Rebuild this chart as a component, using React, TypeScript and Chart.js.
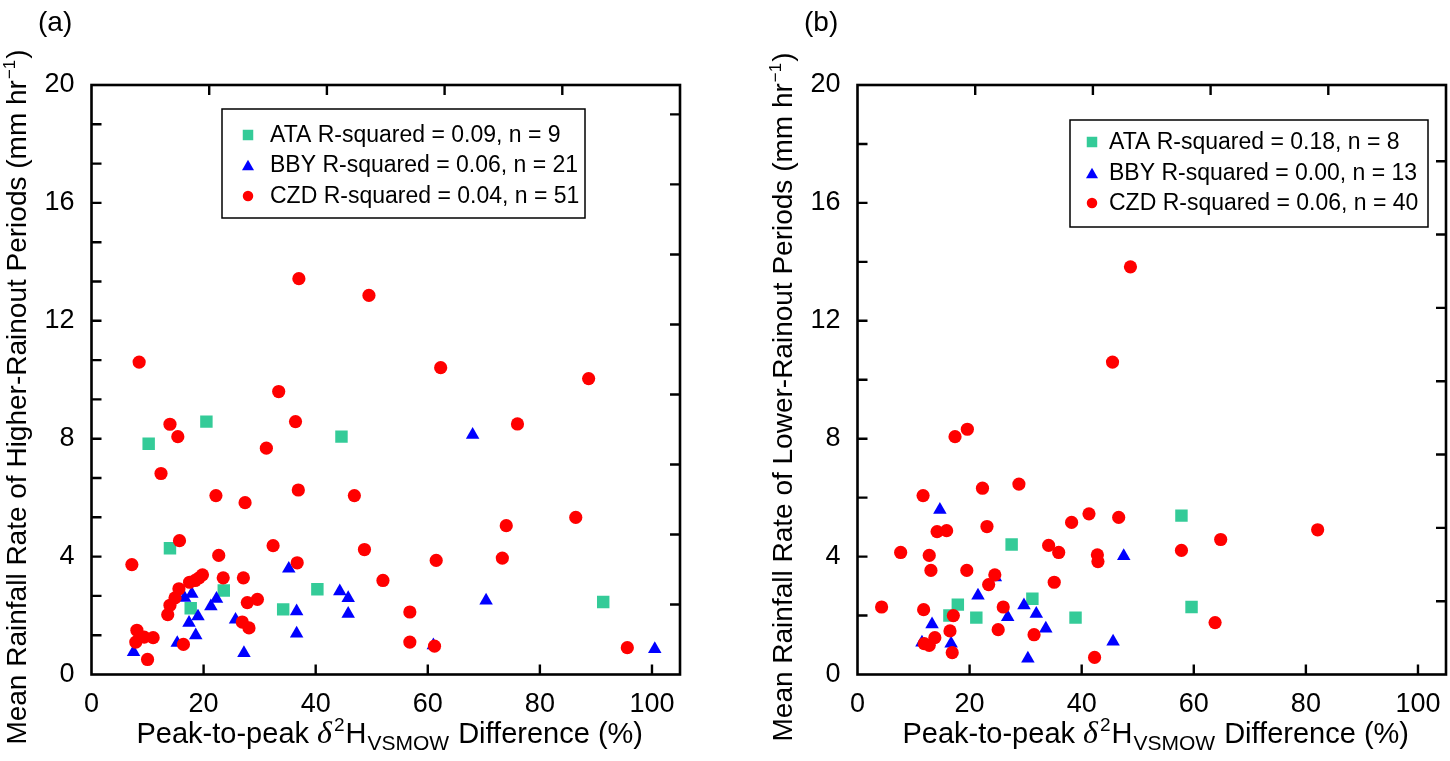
import React, { useEffect, useRef } from 'react';
import { Chart, registerables } from 'chart.js';

Chart.register(...registerables);

type Pt = [number, number];

// ---------- data ----------
const xTickValues = [0, 20, 40, 60, 80, 100];
const yTickValues = [0, 4, 8, 12, 16, 20];
const xRange = [0, 105];
const yRange = [0, 20];

const ataHigher: Pt[] = [[10.2, 7.83], [20.5, 8.58], [44.6, 8.07], [14.0, 4.28], [23.6, 2.85], [40.3, 2.89], [17.7, 2.25], [34.2, 2.21], [91.3, 2.46]];
const bbyHigher: Pt[] = [[35.2, 3.59], [17.9, 2.74], [16.6, 2.6], [22.3, 2.57], [21.3, 2.31], [19.0, 1.97], [17.4, 1.75], [18.6, 1.33], [15.3, 1.07], [7.5, 0.76], [27.2, 0.73], [25.7, 1.86], [44.3, 2.82], [45.8, 2.59], [45.8, 2.06], [36.6, 2.14], [36.6, 1.39], [68.0, 8.13], [70.4, 2.51], [61.0, 0.99], [100.5, 0.86]];
const czdHigher: Pt[] = [[37.0, 13.43], [49.5, 12.86], [8.5, 10.6], [33.4, 9.6], [14.0, 8.49], [36.4, 8.58], [15.4, 8.07], [31.2, 7.68], [12.4, 6.82], [22.2, 6.07], [36.9, 6.26], [46.9, 6.07], [27.4, 5.83], [15.7, 4.54], [7.2, 3.73], [22.7, 4.04], [32.4, 4.37], [48.7, 4.24], [36.7, 3.79], [52.0, 3.19], [19.8, 3.38], [19.2, 3.28], [18.5, 3.19], [17.5, 3.13], [15.6, 2.91], [14.9, 2.6], [14.0, 2.35], [13.6, 2.03], [23.5, 3.28], [27.1, 3.28], [27.8, 2.44], [29.6, 2.55], [26.9, 1.78], [28.1, 1.58], [8.1, 1.5], [7.9, 1.1], [9.4, 1.27], [11.0, 1.25], [10.0, 0.51], [16.4, 1.02], [62.3, 10.41], [88.7, 10.04], [76.0, 8.5], [74.0, 5.05], [86.4, 5.33], [61.5, 3.87], [73.3, 3.95], [56.8, 2.12], [56.8, 1.1], [61.2, 0.96], [95.6, 0.91]];

const ataLower: Pt[] = [[27.5, 4.41], [17.9, 2.37], [16.4, 2.0], [21.2, 1.93], [31.2, 2.57], [38.9, 1.93], [57.8, 5.39], [59.6, 2.29]];
const bbyLower: Pt[] = [[14.7, 5.59], [21.5, 2.68], [29.7, 2.35], [31.9, 2.06], [26.8, 1.95], [33.6, 1.56], [13.3, 1.7], [16.7, 1.05], [11.5, 1.08], [30.4, 0.54], [45.6, 1.12], [47.5, 4.02], [24.6, 3.3]];
const czdLower: Pt[] = [[17.4, 8.07], [19.6, 8.32], [11.7, 6.07], [22.3, 6.32], [28.8, 6.46], [14.2, 4.85], [15.9, 4.88], [23.1, 5.02], [7.7, 4.14], [12.8, 4.04], [13.1, 3.53], [19.5, 3.53], [24.5, 3.38], [23.4, 3.05], [34.1, 4.38], [35.9, 4.14], [38.2, 5.16], [41.3, 5.45], [46.6, 5.33], [42.8, 4.06], [42.9, 3.83], [35.1, 3.13], [4.3, 2.29], [11.8, 2.2], [17.1, 2.0], [26.0, 2.29], [16.5, 1.48], [25.1, 1.52], [31.5, 1.35], [13.8, 1.25], [11.9, 1.05], [12.8, 0.99], [16.9, 0.74], [42.3, 0.58], [48.7, 13.83], [45.5, 10.6], [82.1, 4.91], [64.8, 4.58], [57.8, 4.21], [63.8, 1.76]];

const seriesNames = ['ATA', 'BBY', 'CZD'];
const legendHigher = ['ATA R-squared = 0.09, n = 9', 'BBY R-squared = 0.06, n = 21', 'CZD R-squared = 0.04, n = 51'];
const legendLower = ['ATA R-squared = 0.18, n = 8', 'BBY R-squared = 0.00, n = 13', 'CZD R-squared = 0.06, n = 40'];
const yTitleHigher = 'Mean Rainfall Rate of Higher-Rainout Periods (mm hr';
const yTitleLower = 'Mean Rainfall Rate of Lower-Rainout Periods (mm hr';
const yTitleSup = '\u22121';
const yTitleTail = ')';
const xTitleParts = ['Peak-to-peak ', '\u03b4', '2', 'H', 'VSMOW', ' Difference (%)'];

// ---------- style ----------
const SANS = "'Liberation Sans', Arial, Helvetica, sans-serif";
const SERIF = "'Liberation Serif', 'DejaVu Serif', serif";
const colors = ['#34cb98', '#0000ff', '#ff0000'];
const shapes = ['rect', 'triangle', 'circle'];
const radii = [8.8, 7.8, 6.6];
const W = 684;
const H = 761;
const TICK = 10;
const TICK_FONT = 27;
const TITLE_FONT = 28;
const XTITLE_FONT = 29;
const LEGEND_FONT = 23;

interface LegendLayout { x: number; y: number; w: number; h: number; markerX: number; textX: number; rows: number[] }
interface PanelSpec {
  tag: string;
  series: Pt[][];
  legend: string[];
  yTitle: string;
  leftStep: number;
  topMax: number;
  rightMax: number;
  legendLayout: LegendLayout;
  left: number;
}

const panels: PanelSpec[] = [
  {
    tag: '(a)', series: [ataHigher, bbyHigher, czdHigher], legend: legendHigher, yTitle: yTitleHigher,
    leftStep: 4 / 3, topMax: 5, rightMax: 8.42,
    legendLayout: { x: 222, y: 109, w: 363, h: 109, markerX: 248, textX: 270, rows: [135, 165, 196] },
    left: 0,
  },
  {
    tag: '(b)', series: [ataLower, bbyLower, czdLower], legend: legendLower, yTitle: yTitleLower,
    leftStep: 2, topMax: 5, rightMax: 8.04,
    legendLayout: { x: 304, y: 120, w: 358, h: 107, markerX: 326, textX: 343, rows: [142, 173, 203] },
    left: 766,
  },
];

function drawMarker(ctx: CanvasRenderingContext2D, shape: string, cx: number, cy: number, s: number, color: string) {
  ctx.fillStyle = color;
  ctx.beginPath();
  if (shape === 'rect') {
    ctx.rect(cx - s / 2, cy - s / 2, s, s);
  } else if (shape === 'triangle') {
    const h = s * 0.86;
    ctx.moveTo(cx, cy - h / 2);
    ctx.lineTo(cx + s / 2, cy + h / 2);
    ctx.lineTo(cx - s / 2, cy + h / 2);
    ctx.closePath();
  } else {
    ctx.arc(cx, cy, s / 2, 0, Math.PI * 2);
  }
  ctx.fill();
}

function makeDecor(spec: PanelSpec) {
  return {
    id: 'decor',
    afterDraw(chart: any) {
      const { ctx, chartArea: a, scales } = chart;
      const sx = scales.x, sy = scales.y, sx2 = scales.x2, sy2 = scales.y2;
      ctx.save();
      ctx.strokeStyle = '#000';
      ctx.lineWidth = 2.4;
      ctx.beginPath();
      xTickValues.forEach((v) => {
        if (v <= xRange[0] || v >= xRange[1]) return;
        const p = sx.getPixelForValue(v);
        ctx.moveTo(p, a.bottom);
        ctx.lineTo(p, a.bottom - TICK);
      });
      for (let k = 1; k * spec.leftStep < yRange[1] - 0.01; k++) {
        const p = sy.getPixelForValue(k * spec.leftStep);
        ctx.moveTo(a.left, p);
        ctx.lineTo(a.left + TICK, p);
      }
      for (let k = 1; k < spec.topMax - 0.1; k++) {
        const p = sx2.getPixelForValue(k);
        ctx.moveTo(p, a.top);
        ctx.lineTo(p, a.top + TICK);
      }
      for (let k = 1; k < spec.rightMax - 0.1; k++) {
        const p = sy2.getPixelForValue(k);
        ctx.moveTo(a.right, p);
        ctx.lineTo(a.right - TICK, p);
      }
      ctx.stroke();
      ctx.lineWidth = 2.6;
      ctx.strokeRect(a.left, a.top, a.right - a.left, a.bottom - a.top);

      // legend
      const L = spec.legendLayout;
      ctx.fillStyle = '#fff';
      ctx.fillRect(L.x, L.y, L.w, L.h);
      ctx.lineWidth = 1.5;
      ctx.strokeRect(L.x, L.y, L.w, L.h);
      ctx.font = `${LEGEND_FONT}px ${SANS}`;
      ctx.textBaseline = 'middle';
      ctx.textAlign = 'left';
      spec.legend.forEach((txt, i) => {
        drawMarker(ctx, shapes[i], L.markerX, L.rows[i], shapes[i] === 'triangle' ? 12 : 10.5, colors[i]);
        ctx.fillStyle = '#000';
        ctx.fillText(txt, L.textX, L.rows[i] + 1);
      });

      // panel tag
      ctx.textBaseline = 'alphabetic';
      ctx.font = `${TITLE_FONT}px ${SANS}`;
      ctx.fillStyle = '#000';
      ctx.fillText(spec.tag, 38, 31);

      // y title (rotated)
      ctx.save();
      ctx.translate(26, 398);
      ctx.rotate(-Math.PI / 2);
      const mainFont = `${TITLE_FONT}px ${SANS}`;
      const supFont = `${Math.round(TITLE_FONT * 0.6)}px ${SANS}`;
      ctx.font = mainFont;
      const wMain = ctx.measureText(spec.yTitle).width;
      const wTail = ctx.measureText(yTitleTail).width;
      ctx.font = supFont;
      const wSup = ctx.measureText(yTitleSup).width;
      let cx = -(wMain + wSup + wTail) / 2;
      ctx.font = mainFont;
      ctx.fillText(spec.yTitle, cx, 0);
      cx += wMain;
      ctx.font = supFont;
      ctx.fillText(yTitleSup, cx + 1, -11);
      cx += wSup + 2;
      ctx.font = mainFont;
      ctx.fillText(yTitleTail, cx, 0);
      ctx.restore();

      // x title with super/subscripts
      const fonts = [
        `${XTITLE_FONT}px ${SANS}`,
        `italic ${XTITLE_FONT + 3}px ${SERIF}`,
        `${Math.round(XTITLE_FONT * 0.66)}px ${SANS}`,
        `${XTITLE_FONT}px ${SANS}`,
        `${Math.round(XTITLE_FONT * 0.74)}px ${SANS}`,
        `${XTITLE_FONT}px ${SANS}`,
      ];
      const dy = [0, 0, -12, 0, 7, 0];
      const gaps = [0, 2, 1, 1, 1, 0];
      const widths = xTitleParts.map((t, i) => { ctx.font = fonts[i]; return ctx.measureText(t).width + gaps[i]; });
      const total = widths.reduce((s, w) => s + w, 0);
      let tx = (a.left + a.right) / 2 + 4 - total / 2;
      const base = 743;
      xTitleParts.forEach((t, i) => {
        ctx.font = fonts[i];
        ctx.fillText(t, tx, base + dy[i]);
        tx += widths[i];
      });
      ctx.restore();
    },
  };
}

function Panel({ spec }: { spec: PanelSpec }) {
  const ref = useRef<HTMLCanvasElement | null>(null);
  useEffect(() => {
    if (!ref.current) return;
    const datasets = spec.series.map((pts, i) => ({
      label: seriesNames[i],
      data: pts.map(([x, y]) => ({ x, y })),
      pointStyle: shapes[i] as any,
      pointRadius: radii[i],
      pointHoverRadius: radii[i],
      backgroundColor: colors[i],
      borderColor: colors[i],
      borderWidth: 0,
      order: 2 - i,
    }));
    const tickFont = { family: SANS, size: TICK_FONT };
    const chart = new Chart(ref.current, {
      type: 'scatter',
      data: { datasets },
      options: {
        animation: false,
        responsive: false,
        events: [],
        layout: { autoPadding: false, padding: { top: 85, right: 4, left: 0, bottom: 0 } },
        plugins: { legend: { display: false }, tooltip: { enabled: false } },
        scales: {
          x: {
            type: 'linear', position: 'bottom', min: xRange[0], max: xRange[1],
            grid: { display: false, drawTicks: false }, border: { display: false },
            ticks: { font: tickFont, color: '#000', padding: 14, autoSkip: false, maxRotation: 0 },
            afterBuildTicks: (s: any) => { s.ticks = xTickValues.map((v) => ({ value: v })); },
            afterFit: (s: any) => { s.height = H - 674.5; s.paddingRight = 0; s.paddingLeft = 0; },
          },
          y: {
            type: 'linear', position: 'left', min: yRange[0], max: yRange[1],
            grid: { display: false, drawTicks: false }, border: { display: false },
            ticks: { font: tickFont, color: '#000', padding: 17, autoSkip: false },
            afterBuildTicks: (s: any) => { s.ticks = yTickValues.map((v) => ({ value: v })); },
            afterFit: (s: any) => { s.width = 91.5; s.paddingTop = 0; s.paddingBottom = 0; },
          },
          x2: { type: 'linear', position: 'top', display: false, min: 0, max: spec.topMax },
          y2: { type: 'linear', position: 'right', display: false, min: 0, max: spec.rightMax },
        },
      } as any,
      plugins: [makeDecor(spec)],
    });
    return () => chart.destroy();
  }, [spec]);
  return (
    <canvas
      ref={ref}
      width={W}
      height={H}
      style={{ position: 'absolute', left: spec.left, top: 0, width: W, height: H }}
    />
  );
}

export default function App() {
  return (
    <div style={{ position: 'fixed', left: 0, top: 0, width: 1450, height: 761, background: '#fff', overflow: 'hidden' }}>
      {panels.map((p) => (
        <Panel key={p.tag} spec={p} />
      ))}
    </div>
  );
}
